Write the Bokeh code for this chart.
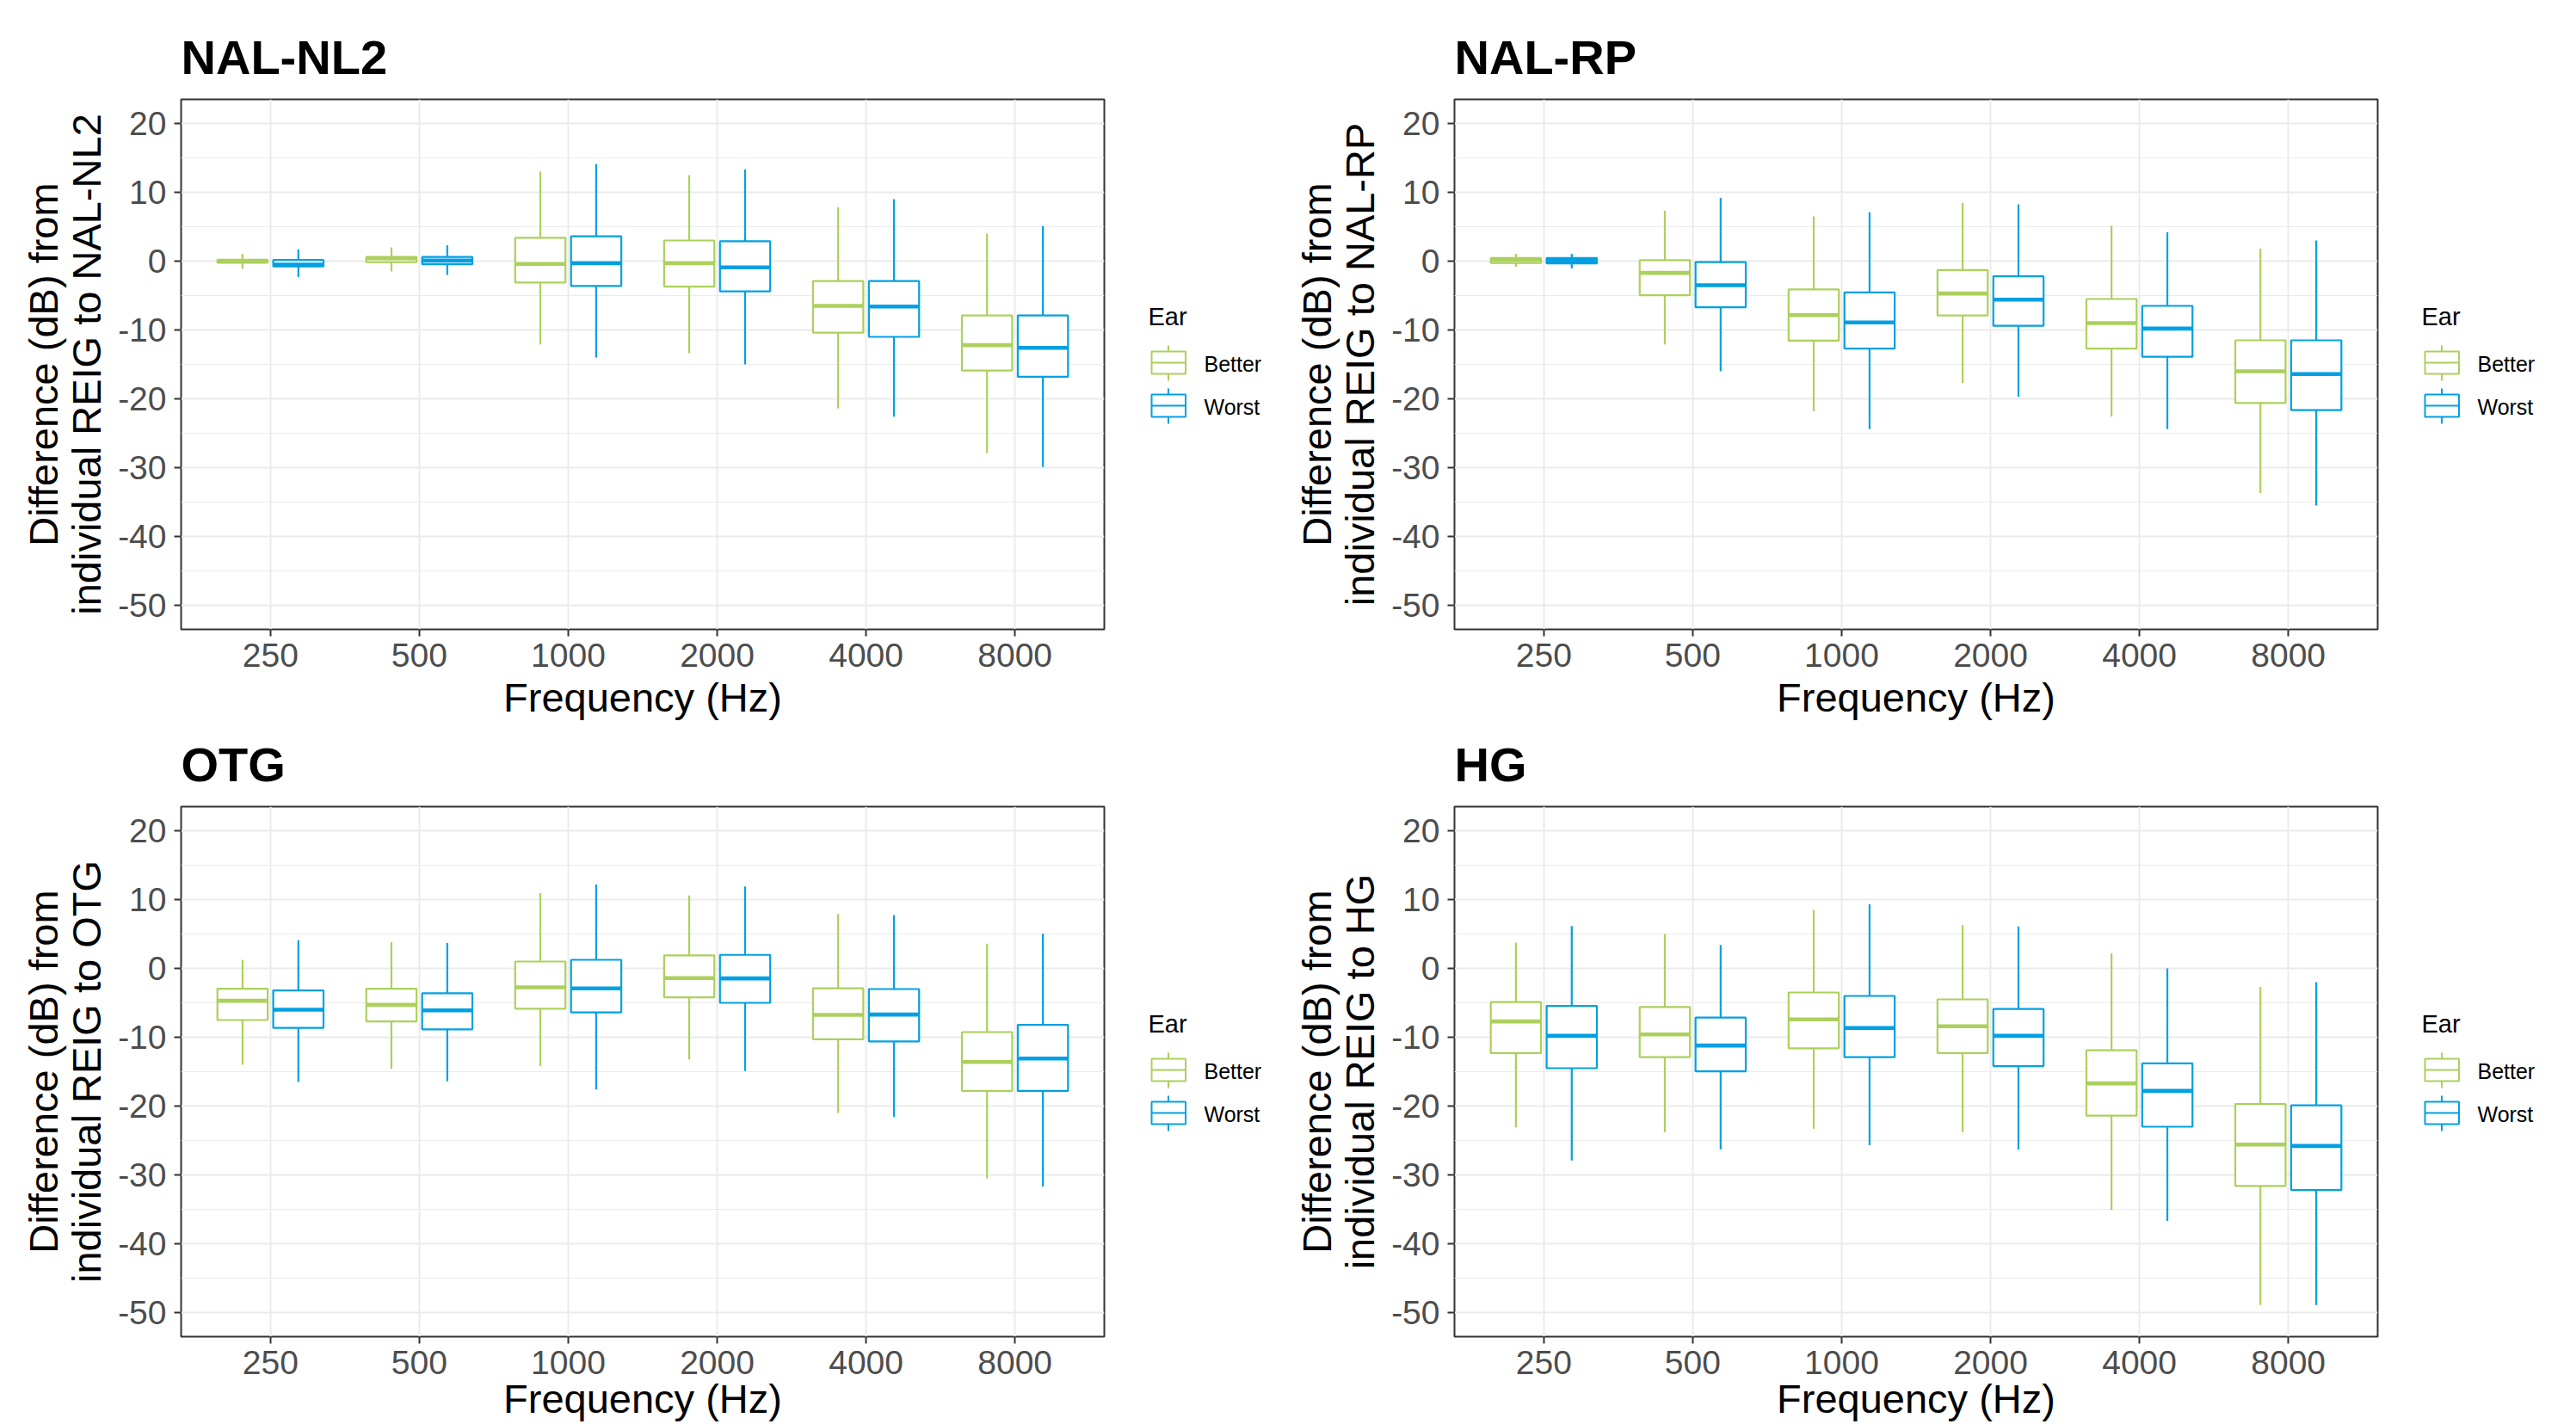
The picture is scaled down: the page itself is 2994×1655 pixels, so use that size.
from bokeh.plotting import figure
from bokeh.models import FactorRange, Range1d, FixedTicker, ColumnDataSource
from bokeh.transform import dodge
from bokeh.layouts import row, column
from bokeh.embed import file_html
from bokeh.resources import INLINE
from bokeh.core.properties import value

# ---------------- data ----------------
FREQS = ["250", "500", "1000", "2000", "4000", "8000"]
EARS = ["Better", "Worst"]
Y_TICKS = [-50, -40, -30, -20, -10, 0, 10, 20]
Y_TICK_LABELS = ["-50", "-40", "-30", "-20", "-10", "0", "10", "20"]
Y_MINOR = [-45, -35, -25, -15, -5, 5, 15]
X_TITLE = "Frequency (Hz)"
LEGEND_TITLE = "Ear"

# (lower whisker, Q1, median, Q3, upper whisker) for each frequency
NL2_BETTER = [(-1.1, -0.24, 0.0, 0.2, 1.05), (-1.5, -0.15, 0.4, 0.61, 2.0),
              (-12.1, -3.1, -0.4, 3.4, 13.0), (-13.4, -3.7, -0.3, 3.0, 12.5),
              (-21.4, -10.4, -6.5, -2.9, 7.8), (-27.9, -15.9, -12.2, -7.9, 4.0)]
NL2_WORST = [(-2.3, -0.78, -0.5, 0.16, 1.7), (-2.0, -0.45, 0.08, 0.6, 2.3),
             (-14.0, -3.6, -0.3, 3.6, 14.1), (-15.0, -4.4, -0.9, 2.9, 13.3),
             (-22.6, -11.0, -6.6, -2.9, 9.0), (-29.9, -16.8, -12.6, -7.9, 5.1)]

RP_BETTER = [(-0.8, -0.26, 0.2, 0.46, 1.05), (-12.1, -4.95, -1.7, 0.13, 7.3),
             (-21.8, -11.55, -7.85, -4.1, 6.5), (-17.7, -7.9, -4.7, -1.3, 8.45),
             (-22.6, -12.7, -9.0, -5.5, 5.15), (-33.7, -20.6, -16.0, -11.5, 1.8)]
RP_WORST = [(-1.05, -0.33, 0.1, 0.46, 1.05), (-16.0, -6.7, -3.5, -0.13, 9.2),
            (-24.4, -12.7, -8.9, -4.55, 7.1), (-19.7, -9.4, -5.6, -2.2, 8.25),
            (-24.4, -13.9, -9.8, -6.5, 4.2), (-35.5, -21.65, -16.4, -11.5, 3.0)]

OTG_BETTER = [(-14.0, -7.5, -4.7, -2.95, 1.25), (-14.6, -7.7, -5.3, -2.95, 3.8),
              (-14.2, -5.85, -2.75, 1.0, 10.95), (-13.25, -4.2, -1.4, 1.9, 10.6),
              (-21.0, -10.3, -6.75, -2.9, 7.9), (-30.5, -17.8, -13.6, -9.25, 3.6)]
OTG_WORST = [(-16.5, -8.65, -6.0, -3.2, 4.1), (-16.4, -8.85, -6.1, -3.6, 3.7),
             (-17.6, -6.4, -2.9, 1.25, 12.2), (-14.9, -5.0, -1.45, 1.97, 11.9),
             (-21.6, -10.6, -6.7, -3.0, 7.75), (-31.7, -17.8, -13.1, -8.2, 5.05)]

HG_BETTER = [(-23.1, -12.3, -7.7, -4.9, 3.75), (-23.8, -12.9, -9.6, -5.6, 5.0),
             (-23.3, -11.6, -7.4, -3.5, 8.5), (-23.8, -12.3, -8.4, -4.5, 6.3),
             (-35.1, -21.4, -16.7, -11.9, 2.2), (-48.9, -31.6, -25.6, -19.7, -2.7)]
HG_WORST = [(-27.9, -14.5, -9.8, -5.45, 6.15), (-26.3, -14.95, -11.2, -7.15, 3.4),
            (-25.7, -12.9, -8.65, -4.0, 9.3), (-26.3, -14.2, -9.8, -5.9, 6.1),
            (-36.7, -23.0, -17.8, -13.8, 0.0), (-48.9, -32.2, -25.8, -19.9, -2.0)]

PANELS = [("NAL-NL2", NL2_BETTER, NL2_WORST), ("NAL-RP", RP_BETTER, RP_WORST),
          ("OTG", OTG_BETTER, OTG_WORST), ("HG", HG_BETTER, HG_WORST)]

# ---------------- style ----------------
FONT = "Liberation Sans"
COLORS = {"Better": "#ACD05C", "Worst": "#02A0E2"}
OFFSETS = {"Better": -0.1875, "Worst": 0.1875}
BOX_W = 0.3375
FRAME_W, FRAME_H = 1073, 616
BORDER_L, BORDER_R = 210, 27
GRID = "#EBEBEB"
DARK = "#333333"


def make_panel(name, better, worst, border_top, border_bottom, xlabel_standoff):
    p = figure(x_range=FactorRange(factors=FREQS, range_padding=0.1, range_padding_units="absolute"),
               y_range=Range1d(-53.5, 23.5),
               frame_width=FRAME_W, frame_height=FRAME_H,
               min_border_left=BORDER_L, min_border_right=BORDER_R,
               min_border_top=border_top, min_border_bottom=border_bottom,
               output_backend="svg", toolbar_location=None, title=name,
               background_fill_color="white", border_fill_color="white")
    p.outline_line_color = DARK
    p.outline_line_width = 2

    p.title.text_font = FONT
    p.title.text_font_size = "56px"
    p.title.text_font_style = "bold"
    p.title.text_color = "black"
    p.title.align = "left"
    p.title.offset = 0
    p.title.standoff = 10
    p.title.padding = dict(left=0, right=0, top=0, bottom=13)

    p.yaxis.ticker = FixedTicker(ticks=Y_TICKS, minor_ticks=Y_MINOR)
    p.yaxis.major_label_overrides = {float(t): s for t, s in zip(Y_TICKS, Y_TICK_LABELS)}
    p.ygrid.grid_line_color = GRID
    p.ygrid.grid_line_width = 2.2
    p.ygrid.minor_grid_line_color = GRID
    p.ygrid.minor_grid_line_width = 1.1
    p.xgrid.grid_line_color = GRID
    p.xgrid.grid_line_width = 2.0

    for ax in (p.xaxis, p.yaxis):
        ax.axis_line_color = None
        ax.major_tick_out = 8
        ax.major_tick_in = 0
        ax.major_tick_line_color = DARK
        ax.major_tick_line_width = 2
        ax.minor_tick_line_color = None
        ax.major_label_text_font = FONT
        ax.major_label_text_font_size = "39px"
        ax.major_label_text_color = "#4D4D4D"
        ax.axis_label_text_font = FONT
        ax.axis_label_text_font_size = "47px"
        ax.axis_label_text_font_style = "normal"
        ax.axis_label_text_color = "black"
    p.yaxis.major_label_standoff = 9
    p.yaxis.axis_label = "Difference (dB) from\nindividual REIG to " + name
    p.yaxis.axis_label_standoff = 7
    p.yaxis.axis_label_text_line_height = 0.95
    p.xaxis.major_label_standoff = 8
    p.xaxis.axis_label = X_TITLE
    p.xaxis.axis_label_standoff = xlabel_standoff

    for ear, stats in zip(EARS, (better, worst)):
        lo, q1, med, q3, hi = (list(v) for v in zip(*stats))
        src = ColumnDataSource(dict(freq=FREQS, lo=lo, q1=q1, med=med, q3=q3, hi=hi))
        off = OFFSETS[ear]
        col = COLORS[ear]
        xc = dodge("freq", off, range=p.x_range)
        p.segment(x0=xc, y0="lo", x1=xc, y1="hi", source=src,
                  line_color=col, line_width=2.2)
        p.vbar(x=xc, width=BOX_W, bottom="q1", top="q3", source=src,
               fill_color="white", line_color=col, line_width=2.2)
        p.segment(x0=dodge("freq", off - BOX_W / 2, range=p.x_range), y0="med",
                  x1=dodge("freq", off + BOX_W / 2, range=p.x_range), y1="med",
                  source=src, line_color=col, line_width=4.6)
    return p


def make_legend(width, border_top, border_bottom):
    # legend drawn in its own small plot; y measured downward from the panel frame top
    lg = figure(x_range=Range1d(0, width), y_range=Range1d(FRAME_H, 0),
                frame_width=width, frame_height=FRAME_H,
                min_border_left=0, min_border_right=0,
                min_border_top=border_top, min_border_bottom=border_bottom,
                x_axis_location=None, y_axis_location=None,
                output_backend="svg", toolbar_location=None,
                outline_line_color=None, background_fill_color="white",
                border_fill_color="white")
    lg.grid.visible = False
    lg.text(x=[24], y=[252], text=[LEGEND_TITLE], text_font=value(FONT),
            text_font_size="29px", text_color="black", text_baseline="middle")
    for k, ear in enumerate(EARS):
        d = 50 * k
        col = COLORS[ear]
        lg.segment(x0=[47.5], y0=[286 + d], x1=[47.5], y1=[327 + d],
                   line_color=col, line_width=2)
        lg.quad(left=[28], right=[67.5], top=[293 + d], bottom=[319 + d],
                fill_color="white", line_color=col, line_width=2)
        lg.segment(x0=[28], y0=[306 + d], x1=[67.5], y1=[306 + d],
                   line_color=col, line_width=2)
        lg.text(x=[89], y=[307 + d], text=[ear], text_font=value(FONT),
                text_font_size="25px", text_color="black", text_baseline="middle")
    return lg


ROW_BORDERS = [(115, 110, 6), (96, 102, -1)]   # (top, bottom, x-title standoff)
LEG_W = [170, 203]

rows = []
for r, (bt, bb, xs) in enumerate(ROW_BORDERS):
    kids = []
    for c in range(2):
        name, better, worst = PANELS[2 * r + c]
        kids.append(make_panel(name, better, worst, bt, bb, xs))
        kids.append(make_legend(LEG_W[c], bt, bb))
    rows.append(row(*kids, spacing=0))

layout = column(*rows, spacing=0)

open("out.html", "w").write(file_html(layout, INLINE))
